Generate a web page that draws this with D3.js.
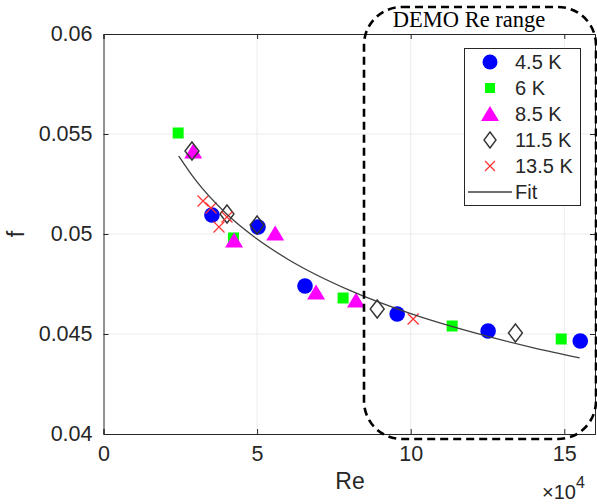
<!DOCTYPE html>
<html>
<head>
<meta charset="utf-8">
<script src="https://cdn.jsdelivr.net/npm/d3@7"></script>
<style>
  html, body { margin: 0; padding: 0; background: #fff; }
  svg { display: block; }
  text { font-family: "Liberation Sans", Arial, Helvetica, sans-serif; fill: #262626; }
</style>
</head>
<body>
<svg id="chart" width="597" height="504"></svg>
<script>
// Friction factor f against Reynolds number (Re in units of 1e4), by temperature
const re45 = [3.53, 5.03, 6.56, 9.56, 12.52, 15.52];
const f45  = [0.05095, 0.05035, 0.0474, 0.0460, 0.04515, 0.04465];

const re6 = [2.43, 4.23, 7.80, 11.35, 14.90];
const f6  = [0.05505, 0.0498, 0.0468, 0.0454, 0.04475];

const re85 = [2.92, 4.25, 5.59, 6.92, 8.22];
const f85  = [0.05415, 0.0497, 0.05005, 0.0471, 0.0467];

const re115 = [2.88, 4.02, 5.00, 8.91, 13.41];
const f115  = [0.05415, 0.0510, 0.05045, 0.04625, 0.04505];

const re135 = [3.24, 3.50, 3.76, 4.02, 10.08];
const f135  = [0.05165, 0.0513, 0.05035, 0.05085, 0.04575];

// Fitted curve, sampled along Re
const fitRe = [2.45, 3, 4, 5, 6, 8, 10, 12, 14, 15.5];
const fitF  = [0.05390, 0.05269, 0.05101, 0.04975, 0.04874, 0.04719, 0.04602, 0.04509, 0.04431, 0.04381];

const xTicks = [0, 5, 10, 15];
const yTicks = [0.04, 0.045, 0.05, 0.055, 0.06];
const seriesNames = ["4.5 K", "6 K", "8.5 K", "11.5 K", "13.5 K", "Fit"];
const regionLabel = "DEMO Re range";

const svg = d3.select("#chart");
const plotL = 103.5, plotR = 595, plotT = 34, plotB = 434;

const x = d3.scaleLinear().domain([0, 16]).range([plotL, plotR]);
const y = d3.scaleLinear().domain([0.04, 0.06]).range([plotB, plotT]);

const axisColor = "#262626";
const gridColor = "#ebebeb";

// grid
const grid = svg.append("g");
grid.selectAll("line.gx").data(xTicks.slice(1)).join("line")
  .attr("x1", d => x(d)).attr("x2", d => x(d))
  .attr("y1", plotT).attr("y2", plotB)
  .attr("stroke", gridColor).attr("stroke-width", 1);
grid.selectAll("line.gy").data(yTicks.slice(1, -1)).join("line")
  .attr("x1", plotL).attr("x2", plotR)
  .attr("y1", d => y(d)).attr("y2", d => y(d))
  .attr("stroke", gridColor).attr("stroke-width", 1);

// axes
const xAxis = d3.axisBottom(x).tickValues(xTicks).tickSize(-5).tickPadding(12).tickFormat(d3.format("d"));
const yAxis = d3.axisLeft(y).tickValues(yTicks).tickSize(-5).tickPadding(11).tickFormat(d => String(+d.toFixed(3)));

const gx = svg.append("g").attr("transform", `translate(0,${plotB})`).call(xAxis);
const gy = svg.append("g").attr("transform", `translate(${plotL},0)`).call(yAxis);
[gx, gy].forEach(g => {
  g.select(".domain").attr("stroke", axisColor).attr("stroke-width", 1);
  g.selectAll(".tick line").attr("stroke", axisColor);
  g.selectAll(".tick text").attr("fill", axisColor)
    .style("font-family", '"Liberation Sans", Arial, sans-serif').style("font-size", "21.5px");
});
gx.selectAll(".tick text").attr("dy", "0.71em");

// top / right box edges with mirrored ticks
const gt = svg.append("g").attr("transform", `translate(0,${plotT})`)
  .call(d3.axisTop(x).tickValues(xTicks).tickSize(-5).tickFormat(""));
const gr = svg.append("g").attr("transform", `translate(${plotR},0)`)
  .call(d3.axisRight(y).tickValues(yTicks).tickSize(-5).tickFormat(""));
[gt, gr].forEach(g => {
  g.select(".domain").attr("stroke", axisColor).attr("stroke-width", 1);
  g.selectAll(".tick line").attr("stroke", axisColor);
});

// axis labels
svg.append("text").attr("x", 350).attr("y", 489).attr("text-anchor", "middle")
  .style("font-size", "23px").text("Re");
svg.append("text").attr("transform", "translate(24,234) rotate(-90)").attr("text-anchor", "middle")
  .style("font-size", "23px").text("f");
const mult = svg.append("text").attr("x", 542).attr("y", 499).style("font-size", "20px");
mult.append("tspan").text("\u00d710");
mult.append("tspan").attr("dy", -11).style("font-size", "16px").text("4");

// marker drawing helpers
const zip = (a, b) => a.map((v, i) => [v, b[i]]);
const plot = svg.append("g");

function circles(g, pts, r) {
  g.selectAll(null).data(pts).join("circle")
    .attr("cx", d => x(d[0])).attr("cy", d => y(d[1])).attr("r", r)
    .attr("fill", "#0000ff");
}
function squares(g, pts, s) {
  g.selectAll(null).data(pts).join("rect")
    .attr("x", d => x(d[0]) - s / 2).attr("y", d => y(d[1]) - s / 2)
    .attr("width", s).attr("height", s).attr("fill", "#00ff00");
}
function triangles(g, pts, w, h) {
  g.selectAll(null).data(pts).join("path")
    .attr("d", d => {
      const cx = x(d[0]), cy = y(d[1]);
      return `M${cx},${cy - h / 2}L${cx + w / 2},${cy + h / 2}L${cx - w / 2},${cy + h / 2}Z`;
    })
    .attr("fill", "#ff00ff");
}
function diamonds(g, pts, w, h) {
  g.selectAll(null).data(pts).join("path")
    .attr("d", d => {
      const cx = x(d[0]), cy = y(d[1]);
      return `M${cx},${cy - h / 2}L${cx + w / 2},${cy}L${cx},${cy + h / 2}L${cx - w / 2},${cy}Z`;
    })
    .attr("fill", "none").attr("stroke", "#333").attr("stroke-width", 1.4);
}
function crosses(g, pts, s) {
  g.selectAll(null).data(pts).join("path")
    .attr("d", d => {
      const cx = x(d[0]), cy = y(d[1]), h = s / 2;
      return `M${cx - h},${cy - h}L${cx + h},${cy + h}M${cx - h},${cy + h}L${cx + h},${cy - h}`;
    })
    .attr("stroke", "#ff3030").attr("stroke-width", 1.2).attr("fill", "none");
}

circles(plot.append("g"), zip(re45, f45), 7.8);
squares(plot.append("g"), zip(re6, f6), 11);
triangles(plot.append("g"), zip(re85, f85), 18, 15);
diamonds(plot.append("g"), zip(re115, f115), 14, 18);
crosses(plot.append("g"), zip(re135, f135), 11);

const line = d3.line().x(d => x(d[0])).y(d => y(d[1])).curve(d3.curveMonotoneX);
plot.append("path").datum(zip(fitRe, fitF)).attr("d", line)
  .attr("fill", "none").attr("stroke", "#404040").attr("stroke-width", 1.3);

// legend
const lg = svg.append("g");
lg.append("rect").attr("x", 464.5).attr("y", 48.5).attr("width", 116).attr("height", 157)
  .attr("fill", "#fff").attr("stroke", "#262626").attr("stroke-width", 1);
const rowY = [62, 88, 114, 140, 166, 192];
const mx = 490;
const lgMark = lg.append("g");
lgMark.append("circle").attr("cx", mx).attr("cy", rowY[0]).attr("r", 7.5).attr("fill", "#0000ff");
lgMark.append("rect").attr("x", mx - 5).attr("y", rowY[1] - 5).attr("width", 10).attr("height", 10).attr("fill", "#00ff00");
lgMark.append("path").attr("d", `M${mx},${rowY[2] - 8}L${mx + 9},${rowY[2] + 7}L${mx - 9},${rowY[2] + 7}Z`).attr("fill", "#ff00ff");
lgMark.append("path").attr("d", `M${mx},${rowY[3] - 8}L${mx + 6},${rowY[3]}L${mx},${rowY[3] + 8}L${mx - 6},${rowY[3]}Z`)
  .attr("fill", "none").attr("stroke", "#333").attr("stroke-width", 1.4);
lgMark.append("path").attr("d", `M${mx - 5},${rowY[4] - 5}L${mx + 5},${rowY[4] + 5}M${mx - 5},${rowY[4] + 5}L${mx + 5},${rowY[4] - 5}`)
  .attr("stroke", "#ff3030").attr("stroke-width", 1.2);
lgMark.append("line").attr("x1", 468).attr("x2", 512).attr("y1", rowY[5]).attr("y2", rowY[5])
  .attr("stroke", "#404040").attr("stroke-width", 1.3);
lg.selectAll("text.lt").data(seriesNames).join("text")
  .attr("x", 515).attr("y", (d, i) => rowY[i]).attr("dy", "0.36em")
  .style("font-size", "20px").text(d => d);

// highlighted Re range
svg.append("rect").attr("x", 364).attr("y", 7).attr("width", 232).attr("height", 432)
  .attr("rx", 38).attr("ry", 38)
  .attr("fill", "none").attr("stroke", "#000").attr("stroke-width", 2.6)
  .attr("stroke-dasharray", "8,5");
svg.append("text").attr("x", 469).attr("y", 27).attr("text-anchor", "middle")
  .style("font-family", '"Liberation Serif", "Times New Roman", serif')
  .style("font-size", "22.5px").style("fill", "#000").text(regionLabel);
</script>
</body>
</html>
